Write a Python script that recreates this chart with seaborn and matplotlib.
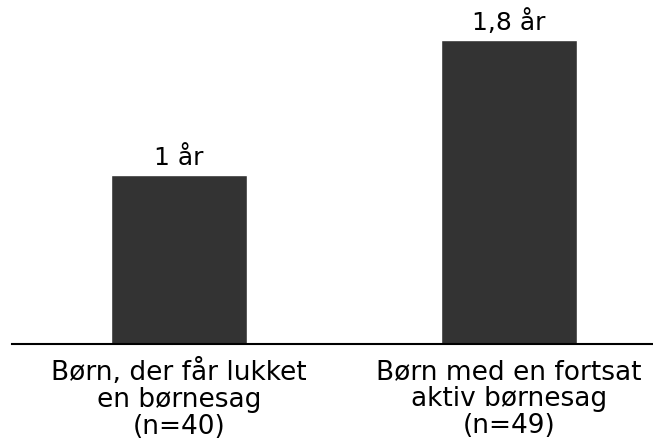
import seaborn as sns
import matplotlib.pyplot as plt
import pandas as pd

categories = ['Børn, der får lukket\nen børnesag\n(n=40)',
              'Børn med en fortsat\naktiv børnesag\n(n=49)']
values = [1.0, 1.8]
value_labels = ['1 år', '1,8 år']

df = pd.DataFrame({'gruppe': categories, 'aar': values})

sns.set_style('white')
plt.rcParams['font.family'] = ['DejaVu Sans']

fig = plt.figure(figsize=(6.53, 4.48), dpi=100)
ax = fig.add_axes([0.018, 0.232, 0.982, 0.754])
sns.barplot(data=df, x='gruppe', y='aar', color='#333333', width=0.41,
            saturation=1, ax=ax)

for i, (v, lab) in enumerate(zip(values, value_labels)):
    ax.text(i, v + 0.03, lab, ha='center', va='bottom', fontsize=18, color='black')

ax.set_xlim(-0.506, 1.436)
ax.set_ylim(0, 2.0)
ax.set_xlabel('')
ax.set_ylabel('')
ax.set_yticks([])
ax.tick_params(axis='x', length=0, labelsize=19, pad=11)
for t in ax.get_xticklabels():
    t.set_linespacing(1.05)
    t.set_color('black')
for s in ['top', 'right', 'left']:
    ax.spines[s].set_visible(False)
ax.spines['bottom'].set_color('black')
ax.spines['bottom'].set_linewidth(1.5)

fig.savefig('out.png', dpi=100)
